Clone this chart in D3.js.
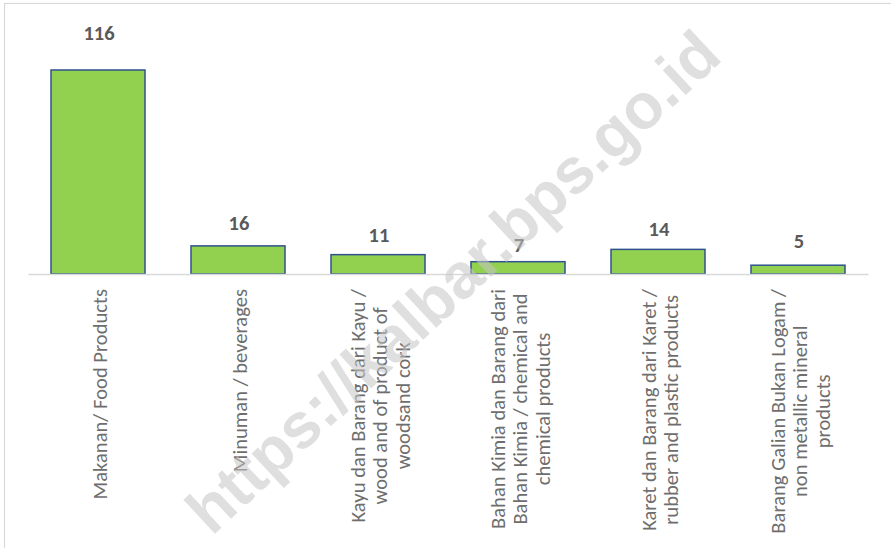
<!DOCTYPE html>
<html>
<head>
<meta charset="utf-8">
<script src="https://cdn.jsdelivr.net/npm/d3@7"></script>
<style>
  html, body { margin: 0; padding: 0; background: #ffffff; }
  svg { display: block; }
</style>
</head>
<body>
<svg id="chart" width="891" height="548"></svg>
<script>
// ---- data ----
const categories = [
  ["Makanan/ Food Products"],
  ["Minuman  / beverages"],
  ["Kayu dan Barang dari Kayu /", "wood and of product of", "woodsand cork"],
  ["Bahan Kimia dan Barang dari", "Bahan Kimia / chemical and", "chemical products"],
  ["Karet dan Barang dari Karet /", "rubber and plastic products"],
  ["Barang Galian Bukan Logam /", "non metallic mineral", "products"]
];
const values = [116, 16, 11, 7, 14, 5];
const watermark = "https://kalbar.bps.go.id";

// ---- layout ----
const svg = d3.select("#chart");
const W = 891, H = 548;
const baseY = 274, topY = 70;
const labelLift = [30, 16, 13, 10, 13, 17];

svg.append("rect")
  .attr("x", 4.5).attr("y", 3.5).attr("width", W + 20).attr("height", H + 20)
  .attr("fill", "#ffffff").attr("stroke", "#d9d9d9").attr("stroke-width", 1.2);

const idx = d3.range(categories.length);
const x = d3.scaleBand().domain(idx).range([28, 868]).paddingInner(0.3286).paddingOuter(0.1643);
const y = d3.scaleLinear().domain([0, d3.max(values)]).range([baseY, topY]);

svg.append("g").selectAll("rect").data(values).join("rect")
  .attr("x", (d, i) => x(i))
  .attr("y", d => y(d))
  .attr("width", x.bandwidth())
  .attr("height", d => y(0) - y(d))
  .attr("fill", "#92d050")
  .attr("stroke", "#2f528f")
  .attr("stroke-width", 1.5);

const axis = svg.append("g").attr("transform", `translate(0,${baseY})`)
  .call(d3.axisBottom(x).tickSize(0).tickSizeOuter(0).tickFormat(""));
axis.select(".domain").attr("stroke", "#d9d9d9").attr("stroke-width", 1.5);

svg.append("g").selectAll("text").data(values).join("text")
  .attr("x", (d, i) => x(i) + x.bandwidth() / 2 + 1)
  .attr("y", (d, i) => y(d) - labelLift[i])
  .attr("text-anchor", "middle")
  .attr("font-family", "Carlito, Calibri, Lato, sans-serif")
  .attr("font-weight", "bold")
  .attr("font-size", "20.5px")
  .attr("fill", "#595959")
  .text(d => d);

// category labels (rotated, multi-line, centred lines)
const lineH = 22.5;
const blockTop = 289;
const catG = svg.append("g");
categories.forEach((lines, i) => {
  const cx = x(i) + x.bandwidth() / 2 + 2;
  const g = catG.append("g");
  const texts = lines.map((ln, j) => g.append("text")
    .attr("font-family", "Carlito, Calibri, Lato, sans-serif")
    .attr("font-size", "20.6px")
    .attr("fill", "#6e6e6e")
    .attr("text-anchor", "middle")
    .attr("dominant-baseline", "central")
    .text(ln));
  const maxLen = d3.max(texts, t => t.node().getComputedTextLength());
  const cy = blockTop + maxLen / 2;
  texts.forEach((t, j) => {
    const lx = cx + (j - (lines.length - 1) / 2) * lineH;
    t.attr("transform", `translate(${lx},${cy}) rotate(-90)`);
  });
});

// watermark
svg.append("text")
  .attr("transform", "translate(468,298) rotate(-43)")
  .attr("text-anchor", "middle")
  .attr("font-family", "Liberation Sans, Arial, sans-serif")
  .attr("font-weight", "bold")
  .attr("font-size", "64px")
  .attr("fill", "#c4c4c4")
  .attr("fill-opacity", 0.55)
  .text(watermark);
</script>
</body>
</html>
